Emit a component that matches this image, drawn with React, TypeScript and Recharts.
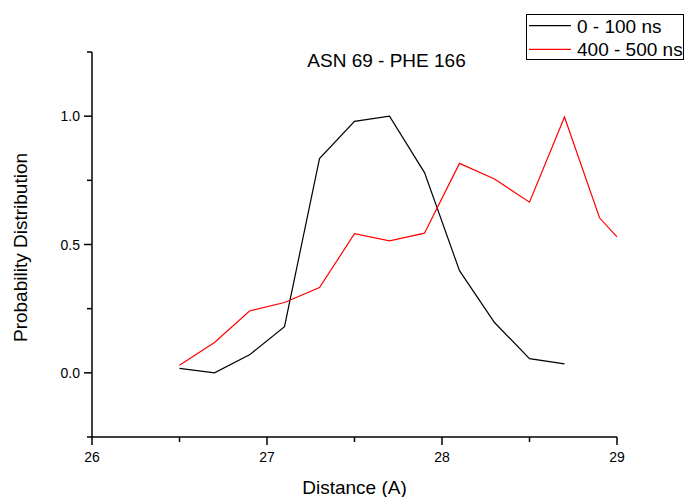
import { LineChart, Line, XAxis, YAxis, Legend, Customized } from 'recharts';

const FONT = '"Liberation Sans", Arial, sans-serif';

// distance (A) sampled every 0.2
const X_EARLY = [26.5, 26.7, 26.9, 27.1, 27.3, 27.5, 27.7, 27.9, 28.1, 28.3, 28.5, 28.7];
const Y_EARLY = [0.017, 0.0, 0.07, 0.18, 0.835, 0.98, 1.0, 0.78, 0.398, 0.196, 0.055, 0.035];

const X_LATE = [26.5, 26.7, 26.9, 27.1, 27.3, 27.5, 27.7, 27.9, 28.1, 28.3, 28.5, 28.7, 28.9, 29.0];
const Y_LATE = [0.03, 0.118, 0.241, 0.274, 0.332, 0.542, 0.514, 0.544, 0.816, 0.755, 0.665, 0.997, 0.604, 0.53];

const X_TICKS = [26, 26.5, 27, 27.5, 28, 28.5, 29];
const Y_TICKS = [-0.25, 0, 0.25, 0.5, 0.75, 1, 1.25];

const SERIES = [
  { name: '0 - 100 ns', color: '#000000', xs: X_EARLY, ys: Y_EARLY },
  { name: '400 - 500 ns', color: '#ff0000', xs: X_LATE, ys: Y_LATE },
];

const toPoints = (xs: number[], ys: number[]) => xs.map((x, i) => ({ x, y: ys[i] }));

function XTick({ x, y, payload }: any) {
  const v = payload.value;
  const major = Number.isInteger(v);
  return (
    <g>
      <line x1={x} x2={x} y1={y} y2={y + (major ? 8 : 5)} stroke="#000" strokeWidth={1.5} />
      {major && (
        <text x={x} y={y + 25} textAnchor="middle" fontSize={14} fontFamily={FONT} fill="#000">
          {v}
        </text>
      )}
    </g>
  );
}

function YTick({ x, y, payload }: any) {
  const v = payload.value;
  const major = Math.abs(v * 2 - Math.round(v * 2)) < 1e-6;
  return (
    <g>
      <line x1={x} x2={x - (major ? 8 : 5)} y1={y} y2={y} stroke="#000" strokeWidth={1.5} />
      {major && (
        <text x={x - 12} y={y + 5} textAnchor="end" fontSize={14} fontFamily={FONT} fill="#000">
          {v.toFixed(1)}
        </text>
      )}
    </g>
  );
}

function XLabel({ viewBox }: any) {
  const { x, y, width } = viewBox;
  return (
    <text x={x + width / 2} y={y + 57} textAnchor="middle" fontSize={19} fontFamily={FONT} fill="#000">
      Distance (A)
    </text>
  );
}

function YLabel({ viewBox }: any) {
  const { x, y, height } = viewBox;
  const cx = x + 27;
  const cy = y + height / 2 + 3;
  return (
    <text
      x={cx}
      y={cy}
      transform={`rotate(-90 ${cx} ${cy})`}
      textAnchor="middle"
      fontSize={19}
      fontFamily={FONT}
      fill="#000"
    >
      Probability Distribution
    </text>
  );
}

function Title() {
  return (
    <text x={386.5} y={66.5} textAnchor="middle" fontSize={19} fontFamily={FONT} fill="#000">
      ASN 69 - PHE 166
    </text>
  );
}

function LegendBox({ payload }: any) {
  return (
    <svg width={158} height={46} style={{ display: 'block' }}>
      <rect x={0.5} y={0.5} width={157} height={45} fill="#fff" stroke="#000" strokeWidth={1} />
      {(payload ?? []).map((p: any, i: number) => {
        const cy = 11.7 + i * 23.6;
        return (
          <g key={p.value}>
            <line x1={3} x2={45} y1={cy} y2={cy} stroke={p.color} strokeWidth={1.2} />
            <text x={51} y={cy + 6.8} fontSize={19} fontFamily={FONT} fill="#000">
              {p.value}
            </text>
          </g>
        );
      })}
    </svg>
  );
}

export default function App() {
  return (
    <div style={{ position: 'absolute', left: 0, top: 0, width: 686, height: 497, background: '#fff' }}>
      <LineChart width={686} height={497} margin={{ top: 52, right: 69, bottom: 0, left: 0 }}>
        <XAxis
          dataKey="x"
          type="number"
          domain={[26, 29]}
          ticks={X_TICKS}
          interval={0}
          height={60}
          tickLine={false}
          tickSize={0}
          tickMargin={0}
          tick={<XTick />}
          axisLine={{ stroke: '#000', strokeWidth: 1.5 }}
          label={<XLabel />}
        />
        <YAxis
          type="number"
          domain={[-0.25, 1.25]}
          ticks={Y_TICKS}
          interval={0}
          width={92}
          tickLine={false}
          tickSize={0}
          tickMargin={0}
          tick={<YTick />}
          axisLine={{ stroke: '#000', strokeWidth: 1.5 }}
          label={<YLabel />}
        />
        <Legend
          layout="horizontal"
          align="center"
          verticalAlign="middle"
          content={<LegendBox />}
          wrapperStyle={{ left: 526, top: 14, width: 158, height: 46 }}
        />
        {SERIES.map(s => (
          <Line
            key={s.name}
            name={s.name}
            data={toPoints(s.xs, s.ys)}
            dataKey="y"
            type="linear"
            stroke={s.color}
            strokeWidth={1.2}
            dot={false}
            activeDot={false}
            isAnimationActive={false}
          />
        ))}
        <Customized component={Title} />
      </LineChart>
    </div>
  );
}
